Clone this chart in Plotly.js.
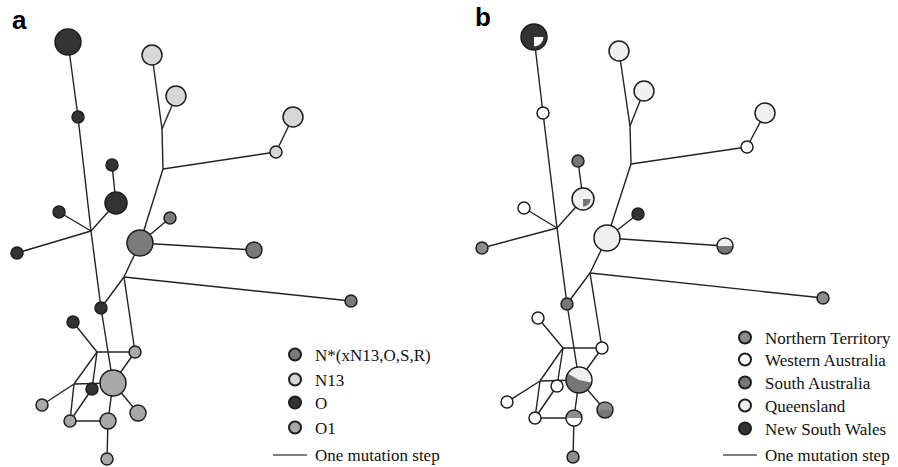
<!DOCTYPE html>
<html>
<head>
<meta charset="utf-8">
<script src="https://cdn.plot.ly/plotly-3.0.1.min.js"></script>
<style>html,body{margin:0;padding:0;background:#fff;}#chart{width:898px;height:467px;}</style>
</head>
<body>
<div id="chart"></div>
<script>
// ---- Panel a: haplogroup network (node centres, radii, category index; -1 = median/junction) ----
const aX   = [68, 78, 152, 176, 162, 293, 276, 163, 112, 116, 59, 91, 170, 140, 17, 254, 124, 351, 101, 73, 97, 135, 113, 74, 92, 42, 138, 70, 108, 107];
const aY   = [42, 117, 55, 96, 129, 117, 152, 169, 165, 203, 212, 231, 218, 243, 253, 250, 277, 301, 308, 322, 352, 352, 383, 384, 389, 405, 413, 421, 421, 459];
const aR   = [13, 6, 10, 10, 0, 10, 6, 0, 6, 11, 6, 0, 6, 13, 6, 8, 0, 6, 6, 6, 0, 6, 13, 0, 6, 6, 8, 6, 8, 6];
const aCat = [2, 2, 1, 1, -1, 1, 1, -1, 2, 2, 2, -1, 0, 0, 2, 0, -1, 0, 2, 2, -1, 3, 3, -1, 2, 3, 3, 3, 3, 3];
const aNames  = ['N*(xN13,O,S,R)', 'N13', 'O', 'O1'];
const aColors = ['#7a7a7a', '#d7d7d7', '#333333', '#a8a8a8'];

// ---- Panel b: same network coloured by region ----
const bX   = [534, 543, 619, 644, 630, 765, 747, 631, 578, 583, 524, 557, 638, 607, 482, 725, 590, 823, 567, 538, 563, 602, 579, 540, 557, 507, 605, 535, 574, 573];
const bY   = [37, 113, 51, 91, 126, 113, 147, 164, 161, 199, 208, 228, 214, 238, 248, 246, 273, 298, 304, 318, 348, 348, 380, 381, 386, 402, 410, 418, 418, 457];
const bR   = [13, 6, 10, 10, 0, 10, 6, 0, 6, 11, 6, 0, 6, 13, 6, 8, 0, 6, 6, 6, 0, 6, 13, 0, 6, 6, 8, 6, 8, 6];
const bCat = [4, 1, 3, 3, -1, 3, 1, -1, 2, 3, 1, -1, 4, 3, 0, 2, -1, 0, 2, 1, -1, 1, 2, -1, 1, 1, 2, 1, 0, 0];
const bNames  = ['Northern Territory', 'Western Australia', 'South Australia', 'Queensland', 'New South Wales'];
const bColors = ['#8c8c8c', '#ffffff', '#767676', '#f0f0f0', '#333333'];
// shared haplotypes (pie sectors): node, category, start angle, end angle (deg), radius fraction
const bPieNode  = [0, 9, 15, 22, 26, 28];
const bPieCat   = [1, 2, 3, 3, 0, 1];
const bPieFrom  = [-90, -90, 0, -12, 0, 180];
const bPieTo    = [0, 0, 180, 150, 180, 360];
const bPieScale = [0.78, 0.76, 1, 1, 1, 1];

// ---- Network edges (one mutation step each), same topology in both panels ----
const edges = [[0,1],[1,11],[11,10],[11,9],[9,8],[11,14],[11,18],[18,22],[2,4],[4,3],[4,7],[7,6],[6,5],[7,13],[13,12],[13,15],[13,16],[16,18],[16,17],[16,21],[19,20],[20,21],[20,23],[20,24],[23,22],[23,25],[23,27],[24,27],[27,28],[22,28],[22,26],[22,21],[28,29]];
const stepLabel = 'One mutation step';

const LEGEND_FONT = {family: 'Liberation Serif, Times New Roman, serif', size: 17, color: '#111'};
const OUTLINE = {color: '#1e1e1e', width: 1.5};
const legendId = n => n === 1 ? 'legend' : 'legend' + n;

function edgeTrace(X, Y) {
  const ex = [], ey = [];
  edges.forEach(([i, j]) => { ex.push(X[i], X[j], null); ey.push(Y[i], Y[j], null); });
  return {type: 'scatter', mode: 'lines', x: ex, y: ey, name: stepLabel,
    line: {color: '#222', width: 1.4}, hoverinfo: 'skip', showlegend: false};
}
function nodeTraces(X, Y, R, C, names, colors, firstLegend) {
  return names.map((nm, k) => {
    const idx = C.map((c, i) => c === k ? i : -1).filter(i => i >= 0);
    return {type: 'scatter', mode: 'markers', name: nm, legend: legendId(firstLegend + k),
      x: idx.map(i => X[i]), y: idx.map(i => Y[i]),
      marker: {color: colors[k], size: idx.map(i => 2 * R[i]), line: OUTLINE, opacity: 1},
      hoverinfo: 'name'};
  });
}
function sectorPath(cx, cy, r, a0, a1) {
  let p = `M ${cx},${cy}`;
  const n = 40;
  for (let s = 0; s <= n; s++) {
    const t = (a0 + (a1 - a0) * s / n) * Math.PI / 180;
    p += ` L ${(cx + r * Math.cos(t)).toFixed(2)},${(cy - r * Math.sin(t)).toFixed(2)}`;
  }
  return p + ' Z';
}

const traces = [
  edgeTrace(aX, aY),
  edgeTrace(bX, bY),
  ...nodeTraces(aX, aY, aR, aCat, aNames, aColors, 1),
  ...nodeTraces(bX, bY, bR, bCat, bNames, bColors, 5)
];

const shapes = bPieNode.map((n, k) => ({
  type: 'path', xref: 'x', yref: 'y', layer: 'above',
  path: sectorPath(bX[n], bY[n], bR[n] * bPieScale[k] - 0.8, bPieFrom[k], bPieTo[k]),
  fillcolor: bColors[bPieCat[k]], line: {width: 0}
}));

// one legend box per entry so each row sits where it does in the figure
const legendX  = [275, 275, 275, 275, 725, 725, 725, 725, 725];
const legendYc = [355, 380, 403, 428, 338, 360, 383, 406, 429];
// scale-bar keys ("One mutation step") for both panels
const keyX0 = [273, 723], keyX1 = [307, 757], keyY = 455;

keyX0.forEach((x0, i) => shapes.push({type: 'line', xref: 'paper', yref: 'paper',
  x0: x0 / 898, x1: keyX1[i] / 898, y0: 1 - keyY / 467, y1: 1 - keyY / 467,
  line: {color: '#555', width: 1.6}}));

const annotations = [
  {text: '<b>a</b>', xref: 'paper', yref: 'paper', x: 10 / 898, y: 1 - 3 / 467, xanchor: 'left', yanchor: 'top',
   showarrow: false, font: {family: 'Liberation Sans, Arial, sans-serif', size: 26, color: '#000'}},
  {text: '<b>b</b>', xref: 'paper', yref: 'paper', x: 473 / 898, y: 1 - 0 / 467, xanchor: 'left', yanchor: 'top',
   showarrow: false, font: {family: 'Liberation Sans, Arial, sans-serif', size: 26, color: '#000'}}
];
keyX1.forEach(x1 => annotations.push({text: stepLabel, xref: 'paper', yref: 'paper',
  x: (x1 + 6) / 898, y: 1 - keyY / 467, xanchor: 'left', yanchor: 'middle', showarrow: false,
  font: LEGEND_FONT}));

const layout = {
  width: 898, height: 467,
  margin: {l: 0, r: 0, t: 0, b: 0},
  paper_bgcolor: '#fff', plot_bgcolor: '#fff',
  xaxis: {range: [0, 898], visible: false, fixedrange: true},
  yaxis: {range: [467, 0], visible: false, fixedrange: true},
  showlegend: true,
  shapes: shapes,
  annotations: annotations
};
legendX.forEach((lx, i) => {
  layout[legendId(i + 1)] = {x: lx / 898, y: 1 - legendYc[i] / 467, xanchor: 'left', yanchor: 'middle',
    font: LEGEND_FONT, bgcolor: 'rgba(0,0,0,0)', itemsizing: 'constant', itemclick: false, borderwidth: 0};
});

Plotly.newPlot('chart', traces, layout, {displayModeBar: false, staticPlot: true});
</script>
</body>
</html>
